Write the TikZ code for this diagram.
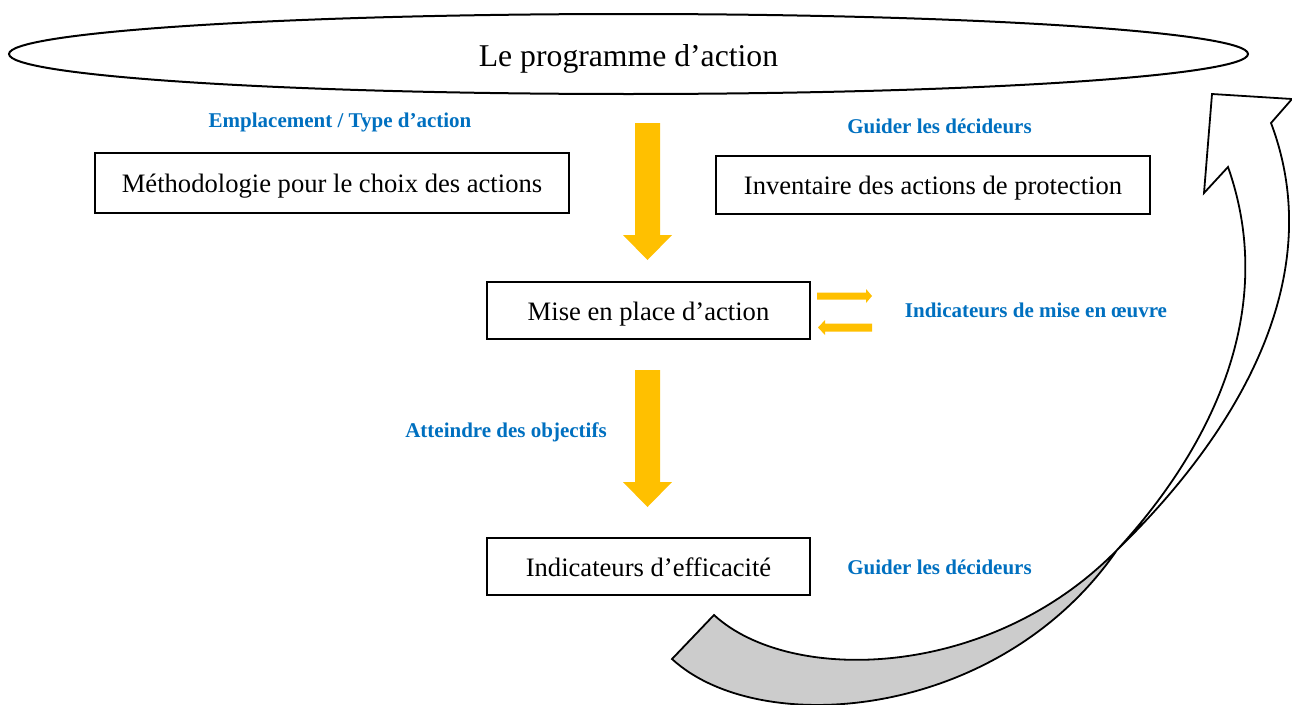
\documentclass[tikz,border=0pt]{standalone}
\usepackage{fontspec}
\setmainfont{Liberation Serif}
\usetikzlibrary{shapes.geometric}
\definecolor{labelblue}{RGB}{0,112,192}
\definecolor{arrowgold}{RGB}{255,192,0}
\definecolor{backgray}{RGB}{204,204,204}

\begin{document}
\begin{tikzpicture}[x=1pt,y=-1pt,
  box/.style={draw,line width=1.8pt,inner sep=0pt,text height=19.4pt,text depth=0pt,
              font=\fontsize{26.6}{30}\selectfont},
  lbl/.style={text=labelblue,font=\fontsize{21}{25}\selectfont\bfseries,inner sep=0pt,
              text height=13.9pt,text depth=0pt},
  bigarrow/.style={fill=arrowgold},
  curvedband/.style={draw,line width=1.8pt,line join=miter}]
\useasboundingbox[fill=white] (0,0) rectangle (1292,704);

% title ellipse
\node[ellipse,draw,line width=2pt,minimum width=1239pt,minimum height=80pt,
      inner sep=0pt,text height=24.7pt,text depth=0pt,
      font=\fontsize{31.7}{36}\selectfont] (prog) at (628.5,54) {Le programme d’action};

% boxes
\node[box,minimum width=474pt,minimum height=60pt] (methodo) at (332,183) {Méthodologie pour le choix des actions};
\node[box,minimum width=434pt,minimum height=58pt] (invent) at (933,185) {Inventaire des actions de protection};
\node[box,minimum width=323pt,minimum height=57pt] (mise) at (648.5,310.5) {Mise en place d’action};
\node[box,minimum width=323pt,minimum height=57pt] (effic) at (648.5,566.5) {Indicateurs d’efficacité};

% blue labels
\node[lbl] (emplac) at (340,121) {Emplacement / Type d’action};
\node[lbl] (guide1) at (939.5,127) {Guider les décideurs};
\node[lbl] (indmise) at (1036,311) {Indicateurs de mise en œuvre};
\node[lbl] (objectifs) at (506,431) {Atteindre des objectifs};
\node[lbl] (guide2) at (939.5,568) {Guider les décideurs};

% large downward arrows
\fill[bigarrow] (635,123) -- (660,123) -- (660,235) -- (672,235) -- (647.5,260)
  -- (623,235) -- (635,235) -- cycle;
\fill[bigarrow] (635,370) -- (660,370) -- (660,482) -- (672,482) -- (647.5,507)
  -- (623,482) -- (635,482) -- cycle;

% small back-and-forth arrows
\fill[bigarrow] (817,292.5) -- (866,292.5) -- (866,289) -- (872,296) -- (866,303)
  -- (866,299.5) -- (817,299.5) -- cycle;
\fill[bigarrow] (872,323.5) -- (825,323.5) -- (825,320) -- (818,327.5) -- (825,335)
  -- (825,331.5) -- (872,331.5) -- cycle;

% curved return arrow: grey underside, then white front with the head
\coordinate (twist) at (1117,550);
\filldraw[curvedband,fill=backgray] (714,615) .. controls (790,685) and (990,680) .. (twist)
  .. controls (1000,720) and (760,740) .. (672,659) -- cycle;
\filldraw[curvedband,fill=white] (twist) .. controls (1200,460) and (1282,320) .. (1228,167)
  -- (1204,193) -- (1212,94) -- (1292,99) -- (1271,123)
  .. controls (1334,290) and (1220,450) .. (twist) -- cycle;
\end{tikzpicture}
\end{document}
